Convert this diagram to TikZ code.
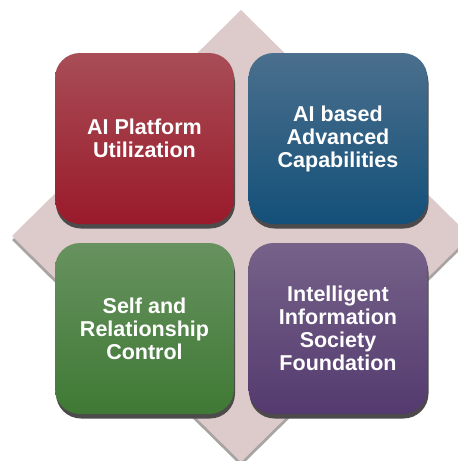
\documentclass[tikz,border=0pt]{standalone}
\usepackage{fontspec}
\setmainfont{Liberation Sans}
\usetikzlibrary{shadows}
\definecolor{diamondcol}{HTML}{DDCBCC}
\definecolor{diamondshadow}{HTML}{A8A4A4}
\definecolor{boxshadow}{HTML}{4C4A4A}
\definecolor{redtop}{HTML}{A84D56}
\definecolor{redbot}{HTML}{9A1A2A}
\definecolor{bluetop}{HTML}{4B6F8D}
\definecolor{bluebot}{HTML}{135079}
\definecolor{greentop}{HTML}{67925F}
\definecolor{greenbot}{HTML}{3F7935}
\definecolor{purptop}{HTML}{766289}
\definecolor{purpbot}{HTML}{543A6F}
\tikzset{
  quadbox/.style={rounded corners=25pt, minimum width=179pt, minimum height=171pt,
    inner sep=0pt, align=center, text=white,
    font=\fontsize{21.5}{23}\selectfont\bfseries,
    drop shadow={shadow xshift=1pt, shadow yshift=-4.5pt, fill=boxshadow, opacity=1}},
}
\begin{document}
\begin{tikzpicture}[x=1pt,y=-1pt]
\useasboundingbox (0,0) rectangle (458,461);
\clip (0,0) rectangle (458,461);
\fill[diamondshadow] (241,14) -- (470,240) -- (241,466) -- (12,240) -- cycle;
\fill[diamondcol] (241,10) -- (470,236) -- (241,462) -- (12,236) -- cycle;
\node[quadbox, top color=redtop, bottom color=redbot] (red) at (144.5,138.5) {AI Platform\\Utilization};
\node[quadbox, top color=bluetop, bottom color=bluebot] (blue) at (338,138.5) {AI based\\Advanced\\Capabilities};
\node[quadbox, top color=greentop, bottom color=greenbot] (green) at (144.5,328.5) {Self and\\Relationship\\Control};
\node[quadbox, top color=purptop, bottom color=purpbot] (purple) at (338,328.5) {Intelligent\\Information\\Society\\Foundation};
\end{tikzpicture}
\end{document}
